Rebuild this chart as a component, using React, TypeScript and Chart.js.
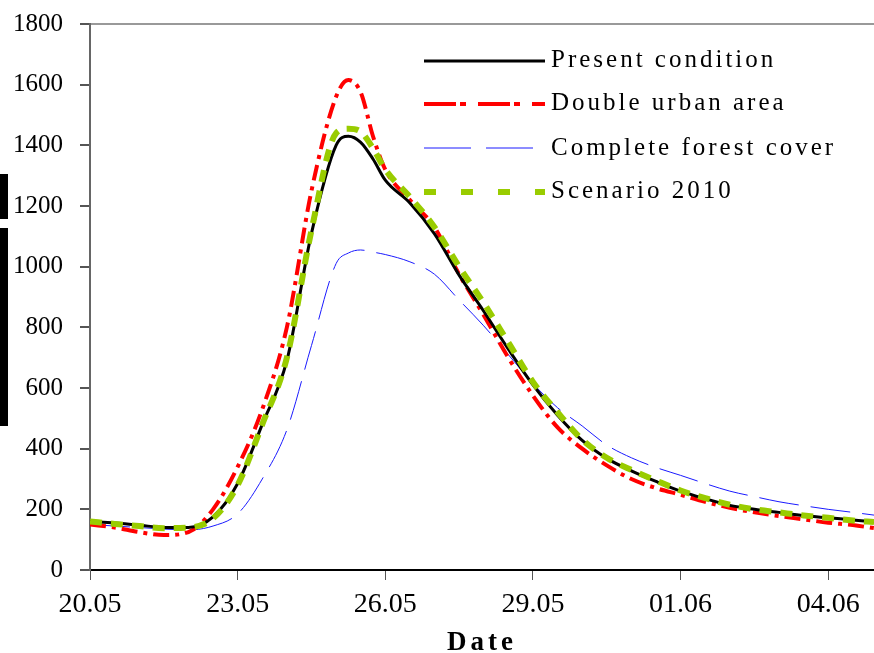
import React, { useEffect, useRef } from "react";
import { Chart, registerables } from "chart.js";

Chart.register(...registerables);

// days since 20.05
const days = [0, 0.5, 1, 1.5, 2, 2.5, 3, 3.5, 4, 4.5, 5, 5.25, 5.5, 5.75, 6, 6.5, 7, 7.5, 8, 8.5, 9, 9.5, 10, 10.5, 11, 11.5, 12, 12.5, 13, 13.5, 14, 14.5, 15, 15.5, 15.93];

const presentCondition = [160, 155, 148, 140, 140, 175, 285, 480, 690, 1110, 1400, 1430, 1410, 1355, 1285, 1210, 1108, 972, 853, 728, 610, 510, 427, 368, 327, 292, 260, 235, 213, 200, 190, 180, 172, 165, 158];
const doubleUrbanArea = [150, 140, 125, 115, 125, 200, 340, 530, 800, 1250, 1560, 1615, 1575, 1430, 1320, 1220, 1130, 975, 840, 700, 575, 470, 400, 345, 300, 270, 248, 225, 205, 190, 178, 167, 156, 148, 138];
const completeForestCover = [150, 145, 140, 135, 132, 145, 185, 300, 462, 740, 1010, 1045, 1055, 1048, 1040, 1016, 975, 890, 805, 710, 615, 535, 475, 412, 370, 338, 312, 285, 260, 242, 225, 212, 200, 190, 181];
const scenario2010 = [160, 152, 145, 138, 140, 170, 280, 480, 700, 1120, 1440, 1455, 1445, 1390, 1320, 1230, 1130, 1000, 880, 750, 620, 520, 430, 370, 330, 295, 262, 237, 215, 200, 190, 180, 172, 163, 158];

const xTickValues = [0, 3, 6, 9, 12, 15];
const xTickLabels = ["20.05", "23.05", "26.05", "29.05", "01.06", "04.06"];
const yTickValues = [0, 200, 400, 600, 800, 1000, 1200, 1400, 1600, 1800];

const seriesNames = ["Present condition", "Double urban area", "Complete forest cover", "Scenario 2010"];
const xTitle = "Date";

const toPoints = (vals: number[]) => vals.map((v, i) => ({ x: days[i], y: v }));

const OFF = 8; // canvas is shifted up by this many pixels

const styles = [
  { color: "#000000", width: 3, dash: [] as number[], legendDash: [] as number[] },
  { color: "#ff0000", width: 4, dash: [16, 6, 4, 6], legendDash: [32, 4, 6, 12] },
  { color: "#1a1aff", width: 1, dash: [40, 12], legendDash: [47, 15] },
  { color: "#99cc00", width: 6, dash: [12, 9], legendDash: [12, 25] },
];

const legendPlugin = {
  id: "customLegend",
  afterDraw(chart: any) {
    const ctx = chart.ctx;
    ctx.save();
    const lineYs = [61, 104, 148, 192];
    const baseYs = [67, 110, 155, 198];
    seriesNames.forEach((name, i) => {
      const s = styles[i];
      ctx.beginPath();
      ctx.strokeStyle = s.color;
      ctx.lineWidth = s.width;
      ctx.setLineDash(s.legendDash);
      ctx.moveTo(424, lineYs[i] + OFF);
      ctx.lineTo(545, lineYs[i] + OFF);
      ctx.stroke();
      ctx.setLineDash([]);
      ctx.fillStyle = "#000";
      ctx.font = "25px 'Liberation Serif'";
      (ctx as any).letterSpacing = "3px";
      ctx.textAlign = "left";
      ctx.textBaseline = "alphabetic";
      ctx.fillText(name, 551, baseYs[i] + OFF);
    });
    ctx.font = "bold 27px 'Liberation Serif'";
    (ctx as any).letterSpacing = "4px";
    ctx.fillText(xTitle, 447, 650 + OFF);
    (ctx as any).letterSpacing = "0px";
    ctx.restore();
  },
};

export default function App() {
  const ref = useRef<HTMLCanvasElement>(null);
  useEffect(() => {
    document.body.style.margin = "0";
    const chart = new Chart(ref.current!, {
      type: "line",
      data: {
        datasets: [presentCondition, doubleUrbanArea, completeForestCover, scenario2010].map((vals, i) => ({
          label: seriesNames[i],
          data: toPoints(vals),
          borderColor: styles[i].color,
          borderWidth: styles[i].width,
          borderDash: styles[i].dash,
          pointRadius: 0,
          fill: false,
          cubicInterpolationMode: "monotone" as const,
          order: [1, 2, 3, 0][i],
        })),
      },
      options: {
        animation: false,
        responsive: true,
        maintainAspectRatio: false,
        layout: { padding: { top: 16, right: 0, left: 0, bottom: 0 } },
        plugins: { legend: { display: false }, tooltip: { enabled: false } },
        scales: {
          x: {
            type: "linear",
            min: 0,
            max: 15.93,
            afterFit: (s: any) => { s.height = 83; },
            afterBuildTicks: (s: any) => { s.ticks = xTickValues.map((v) => ({ value: v })); },
            ticks: {
              color: "#000",
              font: { family: "'Liberation Serif'", size: 28 },
              padding: 8,
              maxRotation: 0,
              autoSkip: false,
              callback: (v: any) => {
                const idx = xTickValues.indexOf(Number(v));
                return idx >= 0 ? xTickLabels[idx] : "";
              },
            },
            grid: { drawOnChartArea: false, tickLength: 10, tickColor: "#555" },
            border: { color: "#000", width: 2 },
          },
          y: {
            min: 0,
            max: 1800,
            afterFit: (s: any) => { s.width = 90; },
            afterBuildTicks: (s: any) => { s.ticks = yTickValues.map((v) => ({ value: v })); },
            ticks: {
              color: "#000",
              font: { family: "'Liberation Serif'", size: 25 },
              padding: 17,
              callback: (v: any) => String(v),
            },
            grid: {
              tickLength: 10,
              tickColor: "#555",
              lineWidth: 2,
              color: (c: any) => (c.tick && c.tick.value === 1800 ? "#999" : "rgba(0,0,0,0)"),
            },
            border: { color: "#666", width: 2 },
          },
        },
      },
      plugins: [legendPlugin],
    } as any);
    return () => chart.destroy();
  }, []);
  return (
    <div style={{ position: "absolute", left: 0, top: 0, width: 874, height: 653, overflow: "hidden", background: "#fff" }}>
      <div style={{ position: "absolute", left: 0, top: -OFF, width: 874, height: 653 + OFF }}>
        <canvas ref={ref} />
      </div>
      <div style={{ position: "absolute", left: 0, top: 174, width: 8, height: 45, background: "#000" }} />
      <div style={{ position: "absolute", left: 0, top: 228, width: 8, height: 198, background: "#000" }} />
    </div>
  );
}
